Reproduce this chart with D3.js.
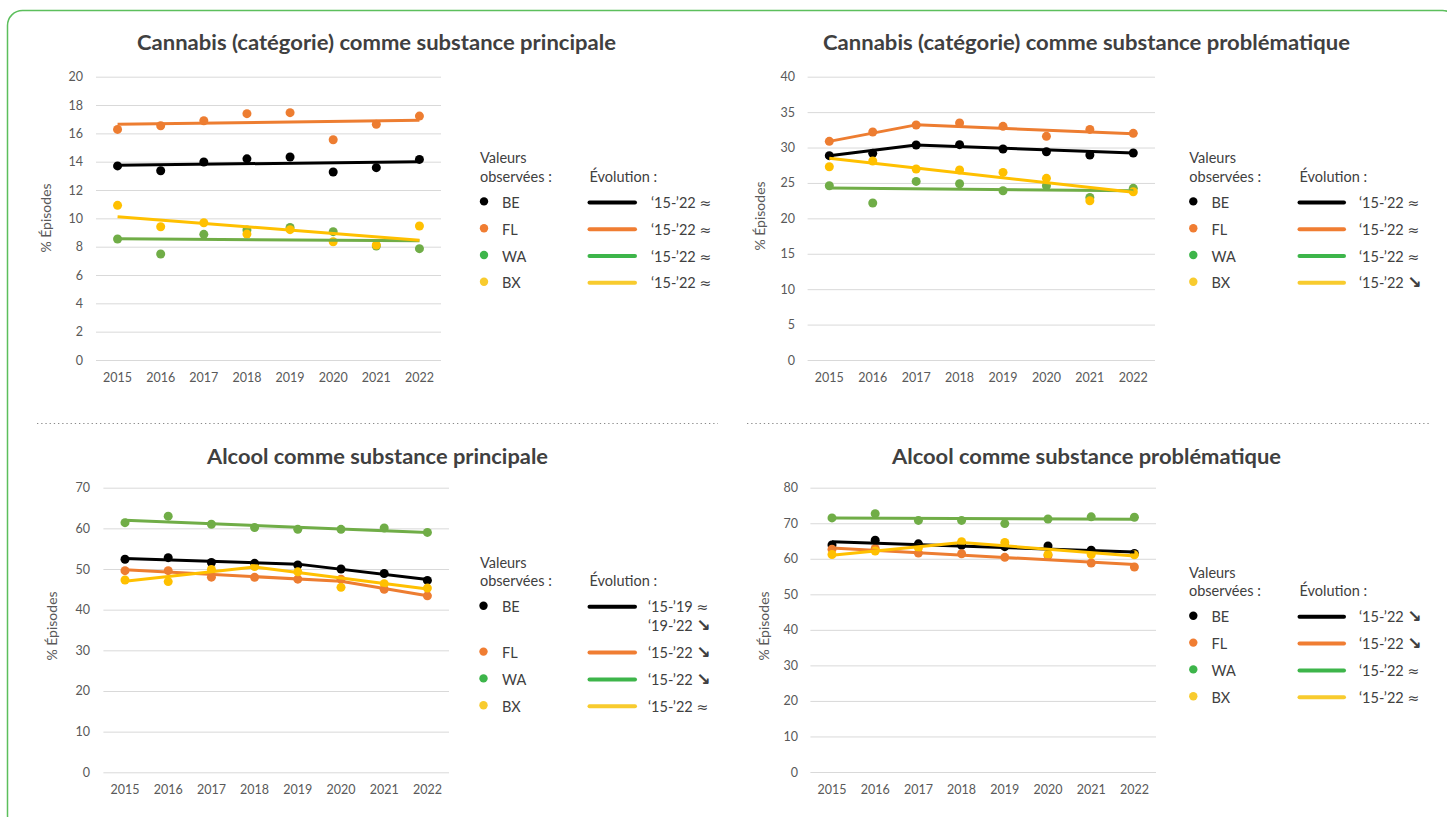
<!DOCTYPE html>
<html lang="fr">
<head>
<meta charset="utf-8">
<title>Cannabis et alcool – évolution 2015-2022</title>
<script src="https://cdn.jsdelivr.net/npm/d3@7/dist/d3.min.js"></script>
<style>
  html, body { margin: 0; padding: 0; background: #fff; }
  svg { display: block; font-family: Lato, "Open Sans", "DejaVu Sans", sans-serif; }
</style>
</head>
<body>
<svg id="chart" width="1447" height="817"></svg>
<script>
// ---- Data --------------------------------------------------------------
const years = [2015, 2016, 2017, 2018, 2019, 2020, 2021, 2022];
const regions = ["BE", "FL", "WA", "BX"];

// Cannabis (catégorie) comme substance principale
const canPrinBE = [13.7, 13.36, 13.98, 14.2, 14.33, 13.27, 13.58, 14.16];
const canPrinFL = [16.28, 16.54, 16.89, 17.39, 17.46, 15.55, 16.64, 17.22];
const canPrinWA = [8.54, 7.48, 8.87, 9.18, 9.36, 9.06, 8.05, 7.86];
const canPrinBX = [10.92, 9.41, 9.69, 8.89, 9.2, 8.35, 8.12, 9.46];
const canPrinTrendBE = [[2015, 13.75], [2022, 14.0]];
const canPrinTrendFL = [[2015, 16.64], [2022, 16.92]];
const canPrinTrendWA = [[2015, 8.56], [2022, 8.42]];
const canPrinTrendBX = [[2015, 10.12], [2022, 8.45]];
const canPrinEvolution = [["‘15-’22 ", "≈"], ["‘15-’22 ", "≈"], ["‘15-’22 ", "≈"], ["‘15-’22 ", "≈"]];

// Cannabis (catégorie) comme substance problématique
const canProbBE = [28.85, 29.18, 30.35, 30.4, 29.79, 29.41, 28.94, 29.22];
const canProbFL = [30.87, 32.19, 33.18, 33.46, 32.99, 31.58, 32.56, 32.0];
const canProbWA = [24.61, 22.16, 25.22, 24.89, 23.9, 24.61, 22.96, 24.24];
const canProbBX = [27.29, 28.09, 26.96, 26.82, 26.49, 25.65, 22.49, 23.76];
const canProbTrendBE = [[2015, 28.85], [2017, 30.35], [2022, 29.22]];
const canProbTrendFL = [[2015, 30.87], [2017, 33.2], [2022, 31.95]];
const canProbTrendWA = [[2015, 24.28], [2022, 23.9]];
const canProbTrendBX = [[2015, 28.47], [2022, 23.67]];
const canProbEvolution = [["‘15-’22 ", "≈"], ["‘15-’22 ", "≈"], ["‘15-’22 ", "≈"], ["‘15-’22 ", "↘"]];

// Alcool comme substance principale
const alcPrinBE = [52.4, 52.8, 51.6, 51.4, 51.0, 50.0, 48.9, 47.2];
const alcPrinFL = [49.6, 49.6, 48.0, 47.95, 47.5, 47.5, 45.0, 43.4];
const alcPrinWA = [61.4, 63.0, 61.0, 60.2, 59.75, 59.75, 60.1, 59.0];
const alcPrinBX = [47.3, 46.9, 49.9, 50.6, 49.3, 45.5, 46.4, 45.3];
const alcPrinTrendBE = [[2015, 52.6], [2019, 51.2], [2022, 47.4]];
const alcPrinTrendFL = [[2015, 49.8], [2020, 47.0], [2022, 43.4]];
const alcPrinTrendWA = [[2015, 62.0], [2022, 59.0]];
const alcPrinTrendBX = [[2015, 47.0], [2018, 50.5], [2022, 45.1]];
const alcPrinEvolution = [["‘15-’19 ", "≈", "‘19-’22 ", "↘"], ["‘15-’22 ", "↘"], ["‘15-’22 ", "↘"], ["‘15-’22 ", "≈"]];

// Alcool comme substance problématique
const alcProbBE = [63.9, 65.2, 64.2, 63.8, 63.4, 63.6, 62.4, 61.5];
const alcProbFL = [62.7, 62.9, 61.6, 61.4, 60.4, 60.9, 58.8, 57.7];
const alcProbWA = [71.5, 72.7, 70.8, 70.8, 69.9, 71.2, 71.8, 71.7];
const alcProbBX = [61.2, 62.2, 63.1, 64.8, 64.6, 61.25, 61.2, 61.1];
const alcProbTrendBE = [[2015, 64.8], [2022, 61.9]];
const alcProbTrendFL = [[2015, 63.0], [2022, 58.4]];
const alcProbTrendWA = [[2015, 71.5], [2022, 71.1]];
const alcProbTrendBX = [[2015, 61.0], [2018, 64.6], [2022, 60.8]];
const alcProbEvolution = [["‘15-’22 ", "↘"], ["‘15-’22 ", "↘"], ["‘15-’22 ", "≈"], ["‘15-’22 ", "≈"]];

const titles = [
  "Cannabis (catégorie) comme substance principale",
  "Cannabis (catégorie) comme substance problématique",
  "Alcool comme substance principale",
  "Alcool comme substance problématique"
];
const yTicks1 = [0, 2, 4, 6, 8, 10, 12, 14, 16, 18, 20];
const yTicks2 = [0, 5, 10, 15, 20, 25, 30, 35, 40];
const yTicks3 = [0, 10, 20, 30, 40, 50, 60, 70];
const yTicks4 = [0, 10, 20, 30, 40, 50, 60, 70, 80];

// ---- Styling -------------------------------------------------------------
const markColor = { BE: "#000000", FL: "#ED7D31", WA: "#70AD47", BX: "#FFC000" };
const legendColor = { BE: "#000000", FL: "#F07D32", WA: "#3DB54A", BX: "#F8CB2E" };
const textDark = "#404040";
const tickGrey = "#595959";

// ---- Panels --------------------------------------------------------------
const panels = [
  {
    title: titles[0], titleX: 376.5, titleY: 50, titleW: 479,
    obs: [canPrinBE, canPrinFL, canPrinWA, canPrinBX],
    trend: [canPrinTrendBE, canPrinTrendFL, canPrinTrendWA, canPrinTrendBX],
    evo: canPrinEvolution, ticks: yTicks1,
    x0: 96, x1: 441, yTop: 76.7, yBot: 360, tickX: 83, yLabX: 46, yLabY: 218,
    leg: { x: 480, y: 158.3, dotX: 484, labX: 502, lineX0: 589.5, lineX1: 635, evoX: 651 }
  },
  {
    title: titles[1], titleX: 1086.5, titleY: 50, titleW: 527,
    obs: [canProbBE, canProbFL, canProbWA, canProbBX],
    trend: [canProbTrendBE, canProbTrendFL, canProbTrendWA, canProbTrendBX],
    evo: canProbEvolution, ticks: yTicks2,
    x0: 807.6, x1: 1155, yTop: 76.7, yBot: 360, tickX: 795, yLabX: 760, yLabY: 216,
    leg: { x: 1189.3, y: 158.3, dotX: 1193.3, labX: 1211.5, lineX0: 1299.5, lineX1: 1344, evoX: 1359 }
  },
  {
    title: titles[2], titleX: 377.5, titleY: 464, titleW: 341,
    obs: [alcPrinBE, alcPrinFL, alcPrinWA, alcPrinBX],
    trend: [alcPrinTrendBE, alcPrinTrendFL, alcPrinTrendWA, alcPrinTrendBX],
    evo: alcPrinEvolution, ticks: yTicks3,
    x0: 103.4, x1: 449, yTop: 487.7, yBot: 772.3, tickX: 90, yLabX: 52, yLabY: 626,
    leg: { x: 480, y: 562.7, dotX: 483.5, labX: 502, lineX0: 589.5, lineX1: 635, evoX: 648 }
  },
  {
    title: titles[3], titleX: 1086.5, titleY: 464, titleW: 389,
    obs: [alcProbBE, alcProbFL, alcProbWA, alcProbBX],
    trend: [alcProbTrendBE, alcProbTrendFL, alcProbTrendWA, alcProbTrendBX],
    evo: alcProbEvolution, ticks: yTicks4,
    x0: 810.4, x1: 1156, yTop: 487.7, yBot: 772, tickX: 798, yLabX: 764, yLabY: 626,
    leg: { x: 1189, y: 572.7, dotX: 1193.3, labX: 1211.5, lineX0: 1299.5, lineX1: 1344, evoX: 1359 }
  }
];

const svg = d3.select("#chart");

// Rounded frame around the whole figure
svg.append("rect")
  .attr("x", 7.5).attr("y", 10.5)
  .attr("width", 1450).attr("height", 820)
  .attr("rx", 15).attr("ry", 15)
  .attr("fill", "none")
  .attr("stroke", "#5CBF5C")
  .attr("stroke-width", 1.5);

// Dotted separators between the two rows
[[37, 718], [747, 1430]].forEach(([a, b]) => {
  svg.append("line")
    .attr("x1", a).attr("x2", b).attr("y1", 423.5).attr("y2", 423.5)
    .attr("stroke", "#8a8a8a").attr("stroke-width", 1.2)
    .attr("stroke-dasharray", "1.3 2.9");
});

panels.forEach(p => {
  const g = svg.append("g");
  const yMax = d3.max(p.ticks);

  const x = d3.scaleBand().domain(years).range([p.x0, p.x1]).padding(0);
  const xc = v => x(v) + x.bandwidth() / 2;
  const y = d3.scaleLinear().domain([0, yMax]).range([p.yBot, p.yTop]);

  // Title
  g.append("text")
    .attr("x", p.titleX).attr("y", p.titleY)
    .attr("text-anchor", "middle")
    .attr("font-size", 20).attr("font-weight", 700)
    .attr("fill", textDark)
    .attr("textLength", p.titleW).attr("lengthAdjust", "spacingAndGlyphs")
    .text(p.title);

  // Gridlines + y tick labels
  const yAxis = d3.axisLeft(y).tickValues(p.ticks)
    .tickSize(-(p.x1 - p.x0)).tickPadding(p.x0 - p.tickX);
  const ya = g.append("g").attr("transform", `translate(${p.x0},0)`).call(yAxis);
  ya.select(".domain").remove();
  ya.selectAll(".tick line").attr("stroke", "#d9d9d9").attr("stroke-width", 1);
  ya.selectAll(".tick text")
    .attr("fill", tickGrey).attr("font-size", 12.5)
    .attr("font-family", "Lato, 'Open Sans', sans-serif");

  // x axis labels
  const xAxis = d3.axisBottom(x).tickSize(0).tickPadding(13);
  const xa = g.append("g").attr("transform", `translate(0,${p.yBot})`).call(xAxis);
  xa.select(".domain").remove();
  xa.selectAll(".tick text")
    .attr("fill", tickGrey).attr("font-size", 12.5)
    .attr("font-family", "Lato, 'Open Sans', sans-serif");

  // y axis title
  g.append("text")
    .attr("transform", `translate(${p.yLabX},${p.yLabY}) rotate(-90)`)
    .attr("text-anchor", "middle").attr("dy", "0.35em")
    .attr("font-size", 14).attr("fill", tickGrey)
    .text("% Épisodes");

  // Observed values
  regions.forEach((r, i) => {
    g.append("g").selectAll("circle")
      .data(years.map((yr, k) => [yr, p.obs[i][k]]))
      .join("circle")
      .attr("cx", d => xc(d[0]))
      .attr("cy", d => y(d[1]))
      .attr("r", 4.5)
      .attr("fill", markColor[r]);
  });

  // Trend lines
  const line = d3.line().x(d => xc(d[0])).y(d => y(d[1]));
  regions.forEach((r, i) => {
    g.append("path")
      .datum(p.trend[i])
      .attr("d", line)
      .attr("fill", "none")
      .attr("stroke", markColor[r])
      .attr("stroke-width", 3)
      .attr("stroke-linejoin", "round");
  });

  // Legend
  const L = p.leg;
  const lg = g.append("g").attr("font-size", 14.5).attr("fill", textDark);
  lg.append("text").attr("x", L.x).attr("y", L.y).attr("dy", "0.35em").text("Valeurs");
  lg.append("text").attr("x", L.x).attr("y", L.y + 18.6).attr("dy", "0.35em").text("observées :");
  lg.append("text").attr("x", L.lineX0).attr("y", L.y + 18.6).attr("dy", "0.35em").text("Évolution :");

  let rowY = L.y + 44.6;
  regions.forEach((r, i) => {
    lg.append("circle").attr("cx", L.dotX).attr("cy", rowY - 1.5).attr("r", 4.2)
      .attr("fill", legendColor[r]);
    lg.append("text").attr("x", L.labX).attr("y", rowY).attr("dy", "0.35em").text(r);
    lg.append("line")
      .attr("x1", L.lineX0).attr("x2", L.lineX1)
      .attr("y1", rowY - 0.5).attr("y2", rowY - 0.5)
      .attr("stroke", legendColor[r]).attr("stroke-width", 4)
      .attr("stroke-linecap", "round");
    // each evolution entry is [period, symbol, period, symbol, ...]
    const evo = p.evo[i];
    const nLines = evo.length / 2;
    for (let k = 0; k < nLines; k++) {
      const t = lg.append("text").attr("x", L.evoX).attr("y", rowY + k * 19).attr("dy", "0.35em");
      t.append("tspan").text(evo[2 * k]);
      const isArrow = evo[2 * k + 1] === "↘";
      t.append("tspan")
        .attr("font-family", "'DejaVu Sans', sans-serif")
        .attr("font-weight", isArrow ? 700 : 400)
        .attr("font-size", isArrow ? 17 : 14)
        .text(evo[2 * k + 1]);
    }
    rowY += 26.8 + (nLines - 1) * 19;
  });
});
</script>
</body>
</html>
